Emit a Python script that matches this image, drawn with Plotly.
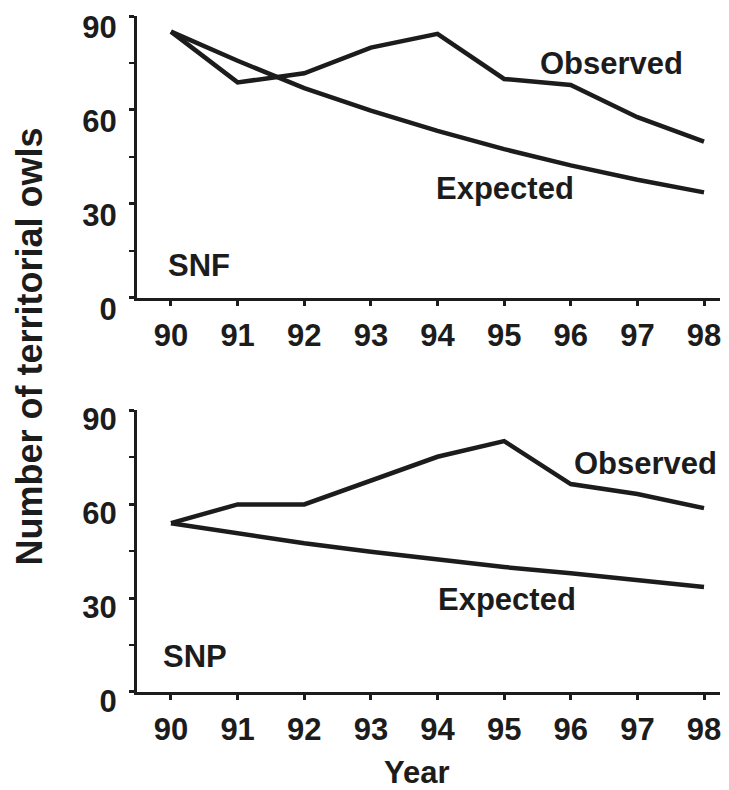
import plotly.graph_objects as go

years = [90, 91, 92, 93, 94, 95, 96, 97, 98]
snf_observed = [85.0, 68.8, 71.7, 79.9, 84.3, 69.9, 68.0, 57.7, 49.9]
snf_expected = [85.0, 75.7, 67.0, 59.8, 53.3, 47.5, 42.3, 37.7, 33.7]
snp_observed = [53.9, 59.9, 59.9, 67.4, 75.1, 80.1, 66.4, 63.2, 58.7]
snp_expected = [53.9, 50.7, 47.5, 44.8, 42.2, 39.9, 37.9, 35.6, 33.5]
y_tickvals = [0, 30, 60, 90]
y_ticktext = ["0", "30", "60", "90"]
x_ticktext = [str(y) for y in years]

INK = "#1c1c1c"
FONT = "Liberation Sans"

# page body has an 8px margin, so the figure starts at (8, 8)
OFF = 8
W, H = 729 - OFF, 790 - OFF
L, R, T, B = 137 - OFF, 9, 16 - OFF, 98
PW = W - L - R
PH = H - T - B

fig = go.Figure()
line = dict(color=INK, width=4.5)
fig.add_trace(go.Scatter(x=years, y=snf_observed, mode="lines", line=line, xaxis="x", yaxis="y"))
fig.add_trace(go.Scatter(x=years, y=snf_expected, mode="lines", line=line, xaxis="x", yaxis="y"))
fig.add_trace(go.Scatter(x=years, y=snp_observed, mode="lines", line=line, xaxis="x2", yaxis="y2"))
fig.add_trace(go.Scatter(x=years, y=snp_expected, mode="lines", line=line, xaxis="x2", yaxis="y2"))

tickfont = dict(family=FONT, size=31, color=INK, weight="bold")

def xaxis(anchor):
    return dict(
        anchor=anchor, domain=[0, 1], range=[89.49, 98.24], automargin=False,
        tickvals=years, ticktext=x_ticktext, ticks="outside", ticklen=5, tickwidth=3,
        tickcolor=INK, showline=True, linecolor=INK, linewidth=3, showgrid=False,
        zeroline=False, tickfont=tickfont, ticklabelstandoff=3, ticklabeloverflow="allow",
    )

def yaxis(anchor, domain, shift):
    return dict(
        anchor=anchor, domain=domain, range=[0, 90], automargin=False,
        tickvals=y_tickvals, ticktext=y_ticktext, ticks="outside", ticklen=5, tickwidth=3,
        tickcolor=INK, showline=True, linecolor=INK, linewidth=3, showgrid=False,
        zeroline=False, tickfont=tickfont, ticklabelshift=shift, ticklabelstandoff=6,
        ticklabeloverflow="allow",
        minor=dict(tickvals=[15, 45, 75], ticks="outside", ticklen=5, tickwidth=2, tickcolor=INK),
    )

fig.update_layout(
    width=W, height=H,
    margin=dict(l=L, r=R, t=T, b=B),
    paper_bgcolor="white", plot_bgcolor="white",
    showlegend=False,
    xaxis=xaxis("y"),
    yaxis=yaxis("x", [0.583, 1.0], 11),
    xaxis2=xaxis("y2"),
    yaxis2=yaxis("x2", [0.0, 0.417], 9),
)

afont = dict(family=FONT, size=31, color=INK, weight="bold")
ann = [
    dict(x=89.93, y=10.4, xref="x", yref="y", text="SNF"),
    dict(x=95.51, y=74.8, xref="x", yref="y", text="Observed"),
    dict(x=93.95, y=34.9, xref="x", yref="y", text="Expected"),
    dict(x=89.85, y=11.3, xref="x2", yref="y2", text="SNP"),
    dict(x=96.02, y=73.0, xref="x2", yref="y2", text="Observed"),
    dict(x=93.98, y=29.5, xref="x2", yref="y2", text="Expected"),
]
for a in ann:
    fig.add_annotation(**a, xanchor="left", yanchor="middle", showarrow=False, font=afont)

def px(xp):
    return (xp - OFF - L) / PW

def py(yp):
    return (T + PH - (yp - OFF)) / PH

fig.add_annotation(text="Year", xref="paper", yref="paper",
                   x=px(417), y=py(772),
                   xanchor="center", yanchor="middle", showarrow=False, font=afont)
fig.add_annotation(text="Number of territorial owls", xref="paper", yref="paper",
                   x=px(28.5), y=py(347),
                   xanchor="center", yanchor="middle", textangle=-90, showarrow=False,
                   font=dict(family=FONT, size=36, color=INK, weight="bold"))

fig.write_html("out.html")
